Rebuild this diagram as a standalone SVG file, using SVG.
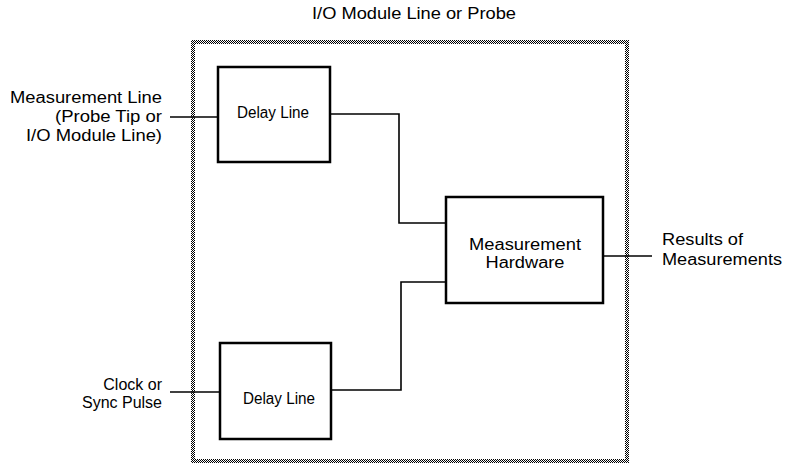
<svg xmlns="http://www.w3.org/2000/svg" width="787" height="466" viewBox="0 0 787 466">
<defs>
<pattern id="dots" x="0" y="0" width="2" height="2" patternUnits="userSpaceOnUse">
<rect x="0" y="0" width="1" height="1" fill="#000"/>
<rect x="1" y="1" width="1" height="1" fill="#000"/>
</pattern>
</defs>
<style>
text{font-family:"Liberation Sans",Arial,sans-serif;font-size:16px;fill:#000}
.box{fill:#fff;stroke:#000;stroke-width:2.5}
.wire{fill:none;stroke:#000;stroke-width:1.6}
.band{fill:url(#dots);stroke:none}
.end{text-anchor:end}
.mid{text-anchor:middle}
</style>
<rect width="787" height="466" fill="#fff"/>
<g id="module">
<rect class="band" x="191" y="40" width="438" height="4"/>
<rect class="band" x="191" y="459" width="438" height="4"/>
<rect class="band" x="191" y="40" width="4" height="423"/>
<rect class="band" x="625" y="40" width="4" height="423"/>
<text class="mid" x="414" y="19" textLength="204" lengthAdjust="spacingAndGlyphs">I/O Module Line or Probe</text>
</g>
<g id="connectors">
<polyline class="wire" points="170,117 218,117"/>
<polyline class="wire" points="330,114 399,114 399,223 446,223"/>
<polyline class="wire" points="170,392 220,392"/>
<polyline class="wire" points="331,390 401,390 401,282 446,282"/>
<polyline class="wire" points="603,256 652,256"/>
</g>
<g id="input-measurement">
<text class="end" x="162" y="103" textLength="152" lengthAdjust="spacingAndGlyphs">Measurement Line</text>
<text class="end" x="162" y="122" textLength="107" lengthAdjust="spacingAndGlyphs">(Probe Tip or</text>
<text class="end" x="162" y="141" textLength="136" lengthAdjust="spacingAndGlyphs">I/O Module Line)</text>
</g>
<g id="input-clock">
<text class="end" x="162" y="390">Clock or</text>
<text class="end" x="162" y="408">Sync Pulse</text>
</g>
<g id="delay-top">
<rect class="box" x="218" y="67" width="112" height="95"/>
<text class="mid" x="273" y="118" textLength="72" lengthAdjust="spacingAndGlyphs">Delay Line</text>
</g>
<g id="delay-bottom">
<rect class="box" x="220" y="343" width="111" height="96"/>
<text class="mid" x="279" y="404" textLength="72" lengthAdjust="spacingAndGlyphs">Delay Line</text>
</g>
<g id="hardware">
<rect class="box" x="446" y="197" width="157" height="106"/>
<text class="mid" x="525" y="250" textLength="112" lengthAdjust="spacingAndGlyphs">Measurement</text>
<text class="mid" x="525" y="268" textLength="79" lengthAdjust="spacingAndGlyphs">Hardware</text>
</g>
<g id="results">
<text x="662" y="245" textLength="81" lengthAdjust="spacingAndGlyphs">Results of</text>
<text x="662" y="265" textLength="120" lengthAdjust="spacingAndGlyphs">Measurements</text>
</g>
</svg>
